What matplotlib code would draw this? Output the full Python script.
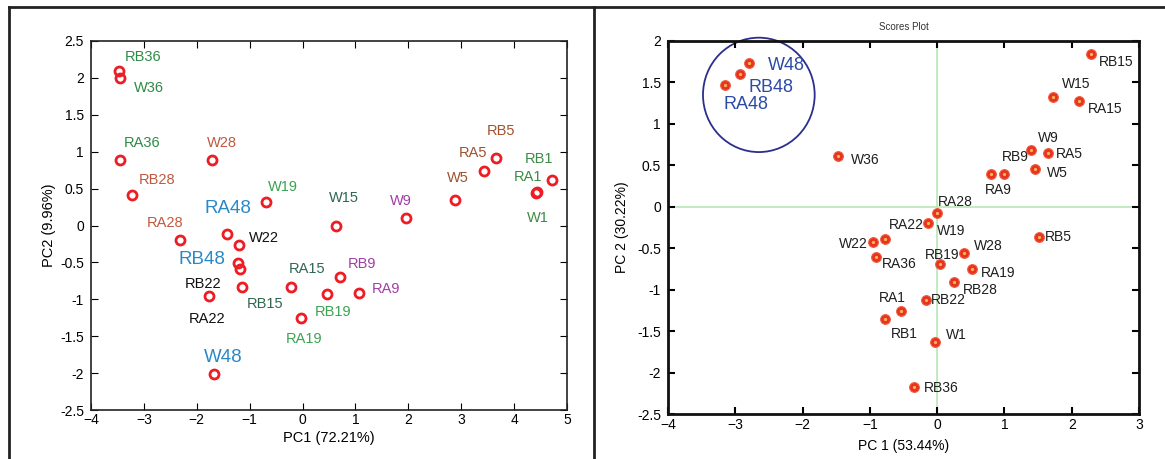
import matplotlib
matplotlib.use('Agg')
import matplotlib.pyplot as plt
from matplotlib.lines import Line2D
from matplotlib.patches import Ellipse

plt.rcParams['font.family'] = ['Liberation Sans', 'DejaVu Sans']

# left panel: PCA scores (PC1 72.21%, PC2 9.96%)
left_names = ['RB36', 'W36', 'RA36', 'W28', 'RB28', 'RA28', 'W19', 'RA19', 'RB19',
              'W15', 'RA15', 'RB15', 'W9', 'RA9', 'RB9', 'W5', 'RA5', 'RB5',
              'W1', 'RA1', 'RB1', 'W22', 'RB22', 'RA22', 'RA48', 'RB48', 'W48']
left_pc1 = [-3.48, -3.46, -3.45, -1.71, -3.22, -2.32, -0.70, -0.02, 0.46,
            0.64, -0.22, -1.15, 1.95, 1.06, 0.70, 2.88, 3.43, 3.65,
            4.41, 4.43, 4.71, -1.20, -1.18, -1.76, -1.43, -1.22, -1.68]
left_pc2 = [2.09, 2.00, 0.89, 0.89, 0.41, -0.20, 0.32, -1.25, -0.93,
            0.00, -0.83, -0.84, 0.10, -0.91, -0.70, 0.34, 0.74, 0.91,
            0.44, 0.45, 0.61, -0.26, -0.59, -0.95, -0.12, -0.51, -2.01]

# right panel: scores plot (PC1 53.44%, PC2 30.22%)
right_names = ['W48', 'RB48', 'RA48', 'W36', 'RB15', 'W15', 'RA15', 'W9', 'RA5',
               'RB9', 'RA9', 'W5', 'RA28', 'W19', 'RA22', 'W22', 'RA36', 'RB19',
               'W28', 'RA19', 'RB28', 'RB22', 'RA1', 'RB1', 'W1', 'RB5', 'RB36']
right_pc1 = [-2.79, -2.93, -3.16, -1.48, 2.28, 1.72, 2.11, 1.39, 1.65,
             1.00, 0.80, 1.46, 0.00, -0.13, -0.78, -0.95, -0.91, 0.04,
             0.40, 0.52, 0.25, -0.16, -0.53, -0.77, -0.03, 1.52, -0.34]
right_pc2 = [1.73, 1.60, 1.47, 0.61, 1.84, 1.32, 1.28, 0.69, 0.65,
             0.40, 0.40, 0.45, -0.08, -0.19, -0.39, -0.42, -0.60, -0.69,
             -0.56, -0.75, -0.91, -1.12, -1.26, -1.35, -1.63, -0.36, -2.17]

# label offsets in pixels (dx, dy up)
left_off = {'RB36': (25, 14), 'W36': (29, -10), 'RA36': (22, 17), 'W28': (10, 17),
            'RB28': (25, 15), 'RA28': (-15, 17), 'W19': (17, 15), 'RA19': (3, -21),
            'RB19': (6, -18), 'W15': (8, 27), 'RA15': (16, 18), 'RB15': (23, -17),
            'W9': (-5, 17), 'RA9': (27, 4), 'RB9': (22, 13), 'W5': (3, 22),
            'RA5': (-11, 18), 'RB5': (5, 27), 'W1': (2, -25), 'RA1': (-9, 15),
            'RB1': (-13, 21), 'W22': (25, 7), 'RB22': (-37, -15), 'RA22': (-2, -23),
            'RA48': (1, 26), 'RB48': (-36, 4), 'W48': (10, 16)}
group_color = {'36': '#2e8b45', '28': '#c0583e', '19': '#3aa352', '15': '#2f6650',
               '9': '#a23ea6', '5': '#a0522d', '1': '#3d8b45', '22': '#111111',
               '48': '#2a88c8'}

right_off = {'W48': (37, -2), 'RB48': (31, -13), 'RA48': (21, -20), 'W36': (28, -4),
             'RB15': (26, -8), 'W15': (23, 13), 'RA15': (26, -8), 'W9': (18, 12),
             'RA5': (21, -1), 'RB9': (11, 17), 'RA9': (7, -16), 'W5': (22, -4),
             'RA28': (18, 11), 'W19': (23, -8), 'RA22': (22, 14), 'W22': (-20, -2),
             'RA36': (23, -7), 'RB19': (2, 9), 'W28': (24, 7), 'RA19': (26, -4),
             'RB28': (26, -8), 'RB22': (22, 0), 'RA1': (-9, 13), 'RB1': (19, -15),
             'W1': (21, 7), 'RB5': (19, 0), 'RB36': (27, -1)}

fig = plt.figure(figsize=(11.65, 4.59), dpi=100)

# outer frame lines
fig.add_artist(Line2D([9 / 1165, 9 / 1165], [0, 1 - 7 / 459], color='#222222', lw=2))
fig.add_artist(Line2D([9 / 1165, 1], [1 - 7 / 459, 1 - 7 / 459], color='#222222', lw=2))
fig.add_artist(Line2D([594 / 1165, 594 / 1165], [0, 1 - 7 / 459], color='#222222', lw=2))

# ---- left panel
ax1 = fig.add_axes([91 / 1165, 1 - 410 / 459, 476 / 1165, 369 / 459])
ax1.plot(left_pc1, left_pc2, 'o', ms=6.5, mfc='none', mec='#ee1c24', mew=2, ls='none')
for n, x, y in zip(left_names, left_pc1, left_pc2):
    g = n.lstrip('RABW')
    big = g == '48'
    ax1.annotate(n, (x, y), xytext=left_off[n], textcoords='offset pixels',
                 ha='center', va='center', color=group_color[g],
                 fontsize=13.5 if big else 10.5)
ax1.set_xlim(-4, 5)
ax1.set_ylim(-2.5, 2.5)
ax1.set_xticks(range(-4, 6))
ax1.set_yticks([-2.5, -2, -1.5, -1, -0.5, 0, 0.5, 1, 1.5, 2, 2.5])
ax1.set_yticklabels(['-2.5', '-2', '-1.5', '-1', '-0.5', '0', '0.5', '1', '1.5', '2', '2.5'])
ax1.tick_params(direction='in', top=True, right=True, length=5, labelsize=10, pad=2)
ax1.tick_params(axis='y', pad=5)
for s in ax1.spines.values():
    s.set_linewidth(1.2)
    s.set_color('#222222')
ax1.set_xlabel('PC1 (72.21%)', fontsize=10.5, labelpad=3)
ax1.set_ylabel('PC2 (9.96%)', fontsize=10.5, labelpad=3)

# ---- right panel
ax2 = fig.add_axes([668 / 1165, 1 - 414 / 459, 471 / 1165, 373 / 459])
ax2.axhline(0, color='#b8e6b8', lw=1.2, zorder=0)
ax2.axvline(0, color='#b8e6b8', lw=1.2, zorder=0)
ax2.plot(right_pc1, right_pc2, 'o', ms=7, mfc='#e8321e', mec='#f05a40', mew=0.8, ls='none')
ax2.plot(right_pc1, right_pc2, 'o', ms=2.4, mfc='#f7b25a', mec='none', ls='none')
for n, x, y in zip(right_names, right_pc1, right_pc2):
    big = n.endswith('48')
    ax2.annotate(n, (x, y), xytext=right_off[n], textcoords='offset pixels',
                 ha='center', va='center', color='#2c4aa8' if big else '#1e1e1e',
                 fontsize=13 if big else 10)
ax2.add_patch(Ellipse((-2.65, 1.35), 1.66, 1.38, fill=False, ec='#2b2e8c', lw=1.3,
                      clip_on=False))
ax2.set_xlim(-4, 3)
ax2.set_ylim(-2.5, 2)
ax2.set_xticks(range(-4, 4))
ax2.set_yticks([-2.5, -2, -1.5, -1, -0.5, 0, 0.5, 1, 1.5, 2])
ax2.set_yticklabels(['-2.5', '-2', '-1.5', '-1', '-0.5', '0', '0.5', '1', '1.5', '2'])
ax2.tick_params(direction='in', top=True, right=True, length=5, width=1.5,
                labelsize=10, pad=3)
ax2.tick_params(axis='y', pad=5)
for s in ax2.spines.values():
    s.set_linewidth(2)
    s.set_color('#111111')
ax2.set_title('Scores Plot', fontsize=7, color='#333333', pad=8)
ax2.set_xlabel('PC 1 (53.44%)', fontsize=10, labelpad=5)
ax2.set_ylabel('PC 2 (30.22%)', fontsize=10, labelpad=6)

fig.savefig('out.png', dpi=100)
